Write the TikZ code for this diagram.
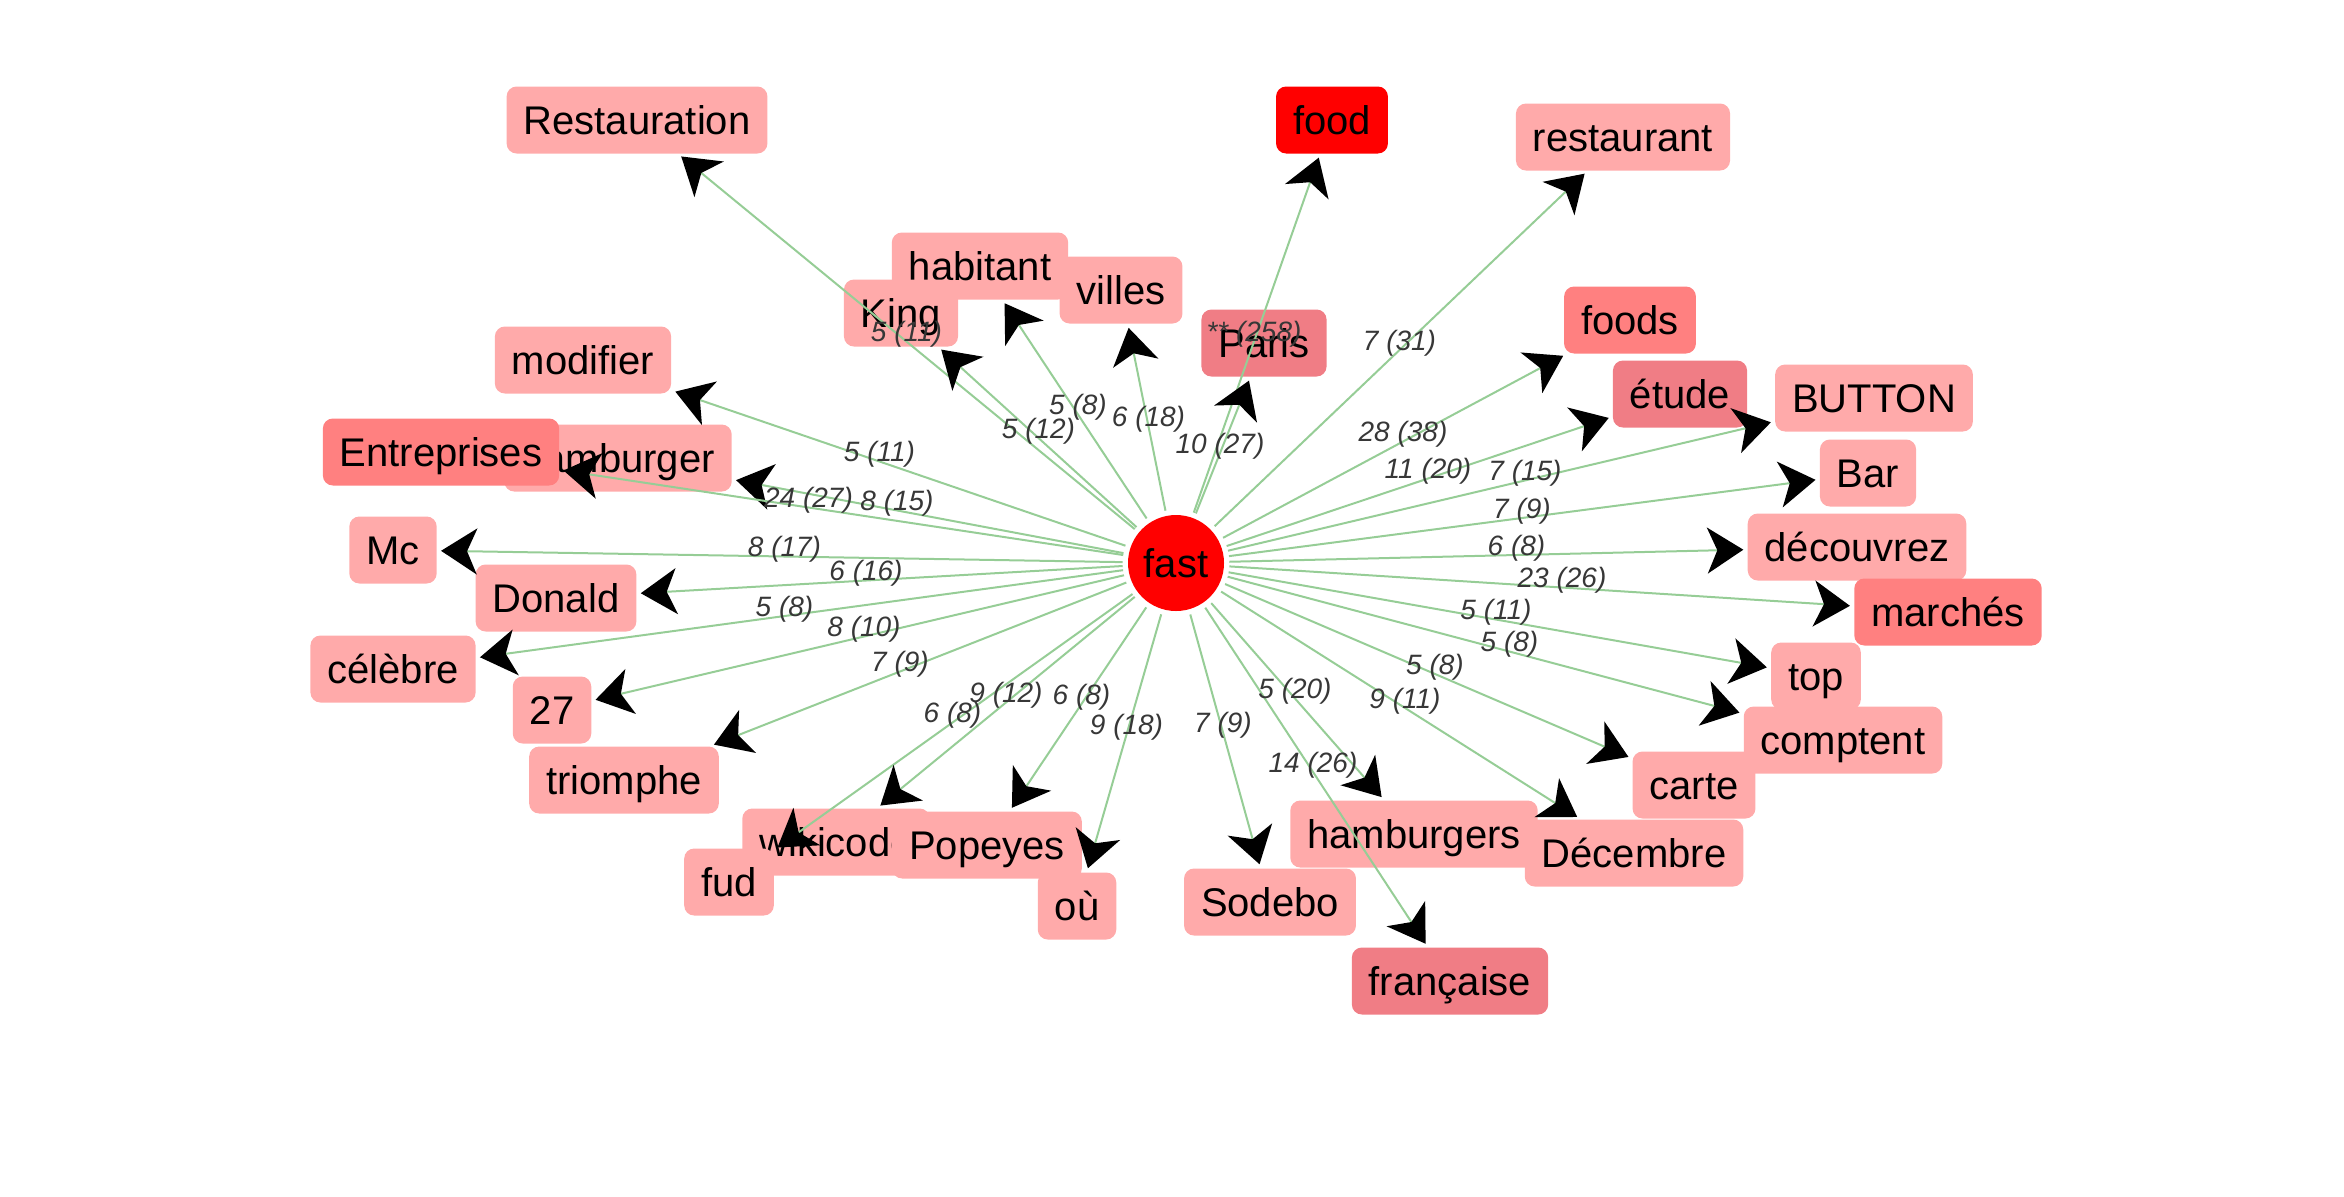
\documentclass[tikz,border=0pt]{standalone}
\usepackage{fontspec}
\setmainfont{Liberation Sans}
\usetikzlibrary{arrows.meta,calc}

\definecolor{pinkA}{RGB}{255,170,170}
\definecolor{pinkB}{RGB}{255,128,128}
\definecolor{pinkC}{RGB}{240,125,133}
\definecolor{hubred}{RGB}{255,0,0}
\definecolor{edgegreen}{RGB}{150,205,150}
\definecolor{labgray}{RGB}{55,55,55}

\tikzset{
  word/.style={rounded corners=5pt, fill=pinkA, inner xsep=8.5pt, inner ysep=0pt,
    minimum height=33.5pt, text height=14.3pt, text depth=0pt,
    font=\fontsize{20}{24}\selectfont},
  midword/.style={word, fill=pinkB},
  warmword/.style={word, fill=pinkC},
  hotword/.style={word, fill=hubred},
  hub/.style={circle, fill=hubred, minimum size=48pt, inner sep=0pt,
    text height=14.3pt, text depth=0pt, font=\fontsize{20}{24}\selectfont},
  link/.style={draw=edgegreen, line width=1pt, shorten >=2pt, shorten <=2.5pt,
    -{Stealth[length=18pt,width=23pt,inset=5pt,color=black]}},
  wt/.style={font=\fontsize{14}{16}\selectfont\itshape, text=labgray,
    inner sep=0pt, yshift=3.5pt}
}

\begin{document}
\begin{tikzpicture}[x=0.5pt,y=-0.5pt]
\useasboundingbox (0,0) rectangle (2344,1196);

% hub
\node[hub] (fast) at (1176,563) {fast};

% surrounding words
\node[word]     (Rest)   at (637,120)  {Restauration};
\node[hotword]  (food)   at (1332,120) {food};
\node[word]     (resto)  at (1623,137) {restaurant};
\node[word]     (habit)  at (980,266)  {habitant};
\node[word]     (King)   at (901,313)  {King};
\node[word]     (villes) at (1121,290) {villes};
\node[warmword] (Paris)  at (1264,343) {Paris};
\node[word]     (modif)  at (583,360)  {modifier};
\node[word]     (hamb)   at (618,458)  {hamburger};
\node[midword]  (Entr)   at (441,452)  {Entreprises};
\node[word]     (Mc)     at (393,550)  {Mc};
\node[word]     (Donald) at (556,598)  {Donald};
\node[word]     (celeb)  at (393,669)  {célèbre};
\node[word]     (vsept)  at (552,710)  {27};
\node[word]     (triom)  at (624,780)  {triomphe};
\node[word]     (wiki)   at (836,842)  {wikicode};
\node[word]     (Popey)  at (987,845)  {Popeyes};
\node[word]     (fud)    at (729,882)  {fud};
\node[word]     (ou)     at (1077,906) {où};
\node[word]     (Sodebo) at (1270,902) {Sodebo};
\node[word]     (hambs)  at (1414,834) {hamburgers};
\node[warmword] (franc)  at (1450,981) {française};
\node[word]     (Decem)  at (1634,853) {Décembre};
\node[word]     (carte)  at (1694,785) {carte};
\node[word]     (top)    at (1816,676) {top};
\node[word]     (compt)  at (1843,740) {comptent};
\node[word]     (decouv) at (1857,547) {découvrez};
\node[midword]  (march)  at (1948,612) {marchés};
\node[word]     (Bar)    at (1868,473) {Bar};
\node[word]     (BUTTON) at (1874,398) {BUTTON};
\node[warmword] (etude)  at (1680,394) {étude};
\node[midword]  (foods)  at (1630,320) {foods};

\def\edgelist{Rest/{5 (11)}, food/{** (258)}, resto/{7 (31)}, habit/{5 (8)},
  King/{5 (12)}, villes/{6 (18)}, Paris/{10 (27)}, modif/{5 (11)},
  hamb/{8 (15)}, Entr/{24 (27)}, Mc/{8 (17)}, Donald/{6 (16)},
  celeb/{5 (8)}, vsept/{8 (10)}, triom/{7 (9)}, fud/{6 (8)},
  wiki/{9 (12)}, Popey/{6 (8)}, ou/{9 (18)}, Sodebo/{7 (9)},
  franc/{14 (26)}, hambs/{5 (20)}, Decem/{9 (11)}, carte/{5 (8)},
  compt/{5 (8)}, top/{5 (11)}, march/{23 (26)}, decouv/{6 (8)},
  Bar/{7 (9)}, BUTTON/{7 (15)}, etude/{11 (20)}, foods/{28 (38)}}

% connectors
\foreach \t/\w in \edgelist {
  \draw[link] (fast) -- (\t);
}
% weights, placed half way between the two centres
\foreach \t/\w in \edgelist {
  \path ($(fast)!0.5!(\t)$) node[wt] (w\t) {\w};
}
\end{tikzpicture}
\end{document}
